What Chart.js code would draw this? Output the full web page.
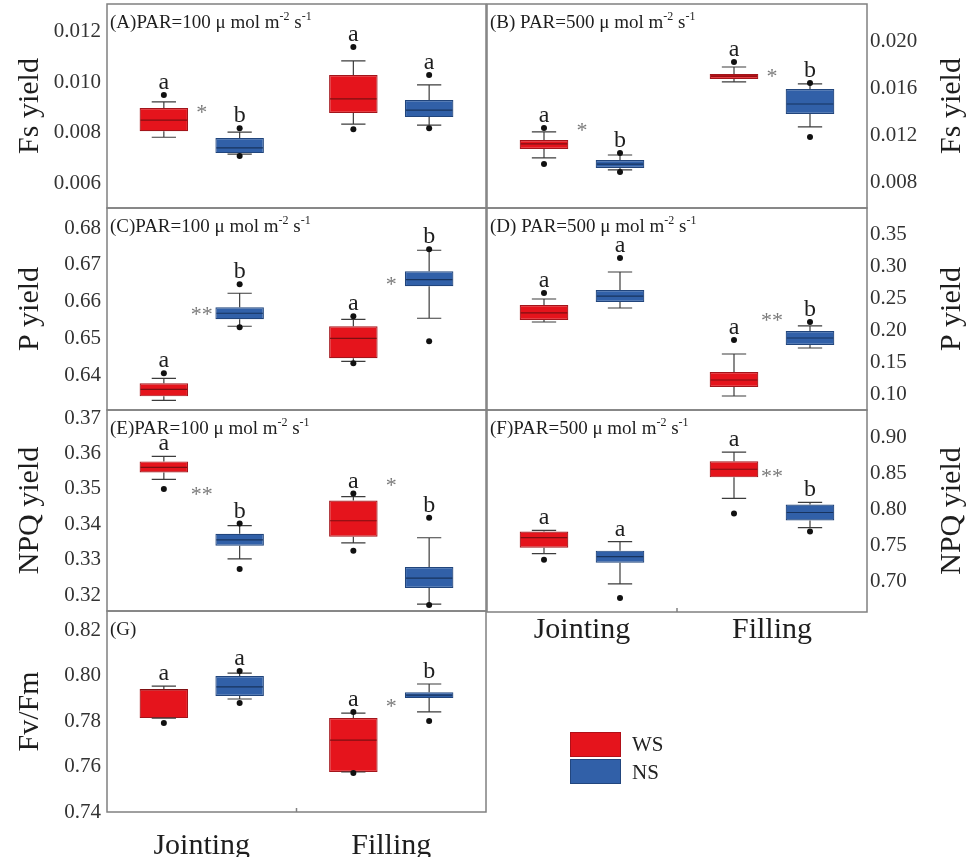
<!DOCTYPE html>
<html lang="en">
<head>
<meta charset="UTF-8">
<title>Chlorophyll fluorescence box plots</title>
<script src="https://cdn.jsdelivr.net/npm/chart.js"></script>
<style>
  body { margin: 0; background: #fff; }
  #wrap { position: relative; width: 971px; height: 857px; overflow: hidden; }
  #wrap canvas { position: absolute; left: 0; top: 0; }
  .key { position: absolute; left: 570px; width: 51px; height: 25px; }
  .keyText { position: absolute; left: 632px; font: 21px "Liberation Serif", serif; color: #222; line-height: 25px; }
</style>
</head>
<body>
<div id="wrap">
  <canvas id="cA" width="971" height="857"></canvas>
  <canvas id="cB" width="971" height="857"></canvas>
  <canvas id="cC" width="971" height="857"></canvas>
  <canvas id="cD" width="971" height="857"></canvas>
  <canvas id="cE" width="971" height="857"></canvas>
  <canvas id="cF" width="971" height="857"></canvas>
  <canvas id="cG" width="971" height="857"></canvas>
  <div class="key" style="top:732px;background:#e5141c;border:1px solid #b01018;box-sizing:border-box"></div>
  <div class="key" style="top:759px;background:#3160a8;border:1px solid #22467e;box-sizing:border-box"></div>
  <div class="keyText" style="top:732px">WS</div>
  <div class="keyText" style="top:760px">NS</div>
</div>
<script>
const stages = ['Jointing', 'Filling'];

// each box: [lower whisker, Q1, median, Q3, upper whisker], one per stage
// (A) Fs yield, PAR=100
const fs100WS = [[0.00782, 0.00806, 0.0085, 0.00898, 0.00922], [0.00834, 0.00878, 0.00934, 0.01029, 0.01085]];
const fs100NS = [[0.00715, 0.00719, 0.0074, 0.00779, 0.00802], [0.0083, 0.00862, 0.0089, 0.0093, 0.0099]];
const fs100WSOut = [[0.0095], [0.0114, 0.00814]];
const fs100NSOut = [[0.00818, 0.00707], [0.01029, 0.00818]];
const fs100Letters = [['a', 'a'], ['b', 'a']];
const fs100Stars = [['*', 0.00902], null];
const fs100Ticks = [0.006, 0.008, 0.010, 0.012];

// (B) Fs yield, PAR=500
const fs500WS = [[0.01013, 0.01089, 0.01132, 0.01166, 0.01234], [0.0166, 0.01685, 0.0171, 0.01728, 0.01787]];
const fs500NS = [[0.00911, 0.00928, 0.0096, 0.00996, 0.01038], [0.01277, 0.01387, 0.01472, 0.016, 0.01643]];
const fs500WSOut = [[0.01268, 0.00962], [0.0183]];
const fs500NSOut = [[0.01055, 0.00894], [0.0165, 0.01191]];
const fs500Letters = [['a', 'a'], ['b', 'b']];
const fs500Stars = [['*', 0.01294], ['*', 0.01753]];
const fs500Ticks = [0.008, 0.012, 0.016, 0.020];

// (C) P yield, PAR=100
const p100WS = [[0.63313, 0.63422, 0.63613, 0.63777, 0.63913], [0.64376, 0.64458, 0.65, 0.6533, 0.6552]];
const p100NS = [[0.6533, 0.6552, 0.65684, 0.65847, 0.66229], [0.65548, 0.6642, 0.666, 0.66828, 0.674]];
const p100WSOut = [[0.6405], [0.65602, 0.6432]];
const p100NSOut = [[0.66474, 0.653], [0.67428, 0.64921]];
const p100Letters = [['a', 'a'], ['b', 'b']];
const p100Stars = [['**', 0.6579], ['*', 0.6661]];
const p100Ticks = [0.64, 0.65, 0.66, 0.67, 0.68];

// (D) P yield, PAR=500
const p500WS = [[0.2125, 0.2156, 0.2266, 0.2391, 0.2484], [0.0969, 0.111, 0.1219, 0.1344, 0.1625]];
const p500NS = [[0.2344, 0.2438, 0.253, 0.2625, 0.2906], [0.1719, 0.1766, 0.1875, 0.1984, 0.2063]];
const p500WSOut = [[0.2578], [0.1844]];
const p500NSOut = [[0.3125], [0.2125]];
const p500Letters = [['a', 'a'], ['a', 'b']];
const p500Stars = [null, ['**', 0.2234]];
const p500Ticks = [0.10, 0.15, 0.20, 0.25, 0.30, 0.35];

// (E) NPQ yield, PAR=100
const npq100WS = [[0.35267, 0.35466, 0.3561, 0.35778, 0.3592], [0.33477, 0.33648, 0.341, 0.3467, 0.3478]];
const npq100NS = [[0.33023, 0.33392, 0.3356, 0.33733, 0.3396], [0.31744, 0.32199, 0.3248, 0.32795, 0.3362]];
const npq100WSOut = [[0.35], [0.3487, 0.3325]];
const npq100NSOut = [[0.3402, 0.32739], [0.34188, 0.3172]];
const npq100Letters = [['a', 'a'], ['b', 'b']];
const npq100Stars = [['**', 0.35], ['*', 0.3524]];
const npq100Ticks = [0.32, 0.33, 0.34, 0.35, 0.36, 0.37];

// (F) NPQ yield, PAR=500
const npq500WS = [[0.7389, 0.7472, 0.761, 0.7694, 0.771], [0.8153, 0.8444, 0.8556, 0.8667, 0.8792]];
const npq500NS = [[0.6972, 0.7264, 0.7347, 0.7431, 0.7556], [0.775, 0.7847, 0.7958, 0.8069, 0.8097]];
const npq500WSOut = [[0.7306], [0.7944]];
const npq500NSOut = [[0.6778], [0.7694]];
const npq500Letters = [['a', 'a'], ['a', 'b']];
const npq500Stars = [null, ['**', 0.8528]];
const npq500Ticks = [0.70, 0.75, 0.80, 0.85, 0.90];

// (G) Fv/Fm
const fvfmWS = [[0.7813, 0.7813, 0.7938, 0.7941, 0.7954], [0.7576, 0.7576, 0.7716, 0.7813, 0.7835]];
const fvfmNS = [[0.7897, 0.791, 0.795, 0.7998, 0.8011], [0.784, 0.7901, 0.7914, 0.7927, 0.7963]];
const fvfmWSOut = [[0.7791], [0.784, 0.7571]];
const fvfmNSOut = [[0.802, 0.7879], [0.78]];
const fvfmLetters = [['a', 'a'], ['a', 'b']];
const fvfmStars = [null, ['*', 0.7888]];
const fvfmTicks = [0.74, 0.76, 0.78, 0.80, 0.82];

const SERIF = '"Liberation Serif", "DejaVu Serif", serif';
const WS_FILL = '#e5141c', WS_EDGE = '#a3141a', WS_MED = '#7e0f12';
const NS_FILL = '#3160a8', NS_EDGE = '#21457c', NS_MED = '#17335e';
const FRAME = '#808080';

function parTitle(tag, gap, par) {
  return [['(' + tag + ')' + gap + 'PAR=' + par + ' μ mol m', false], ['-2', true], [' s', false], ['-1', true]];
}

const panels = [
  { id: 'cA', side: 'left', frame: [107, 4, 486, 208], title: parTitle('A', '', 100), yTitle: 'Fs yield',
    min: 0.00501, max: 0.01311, dec: 3, ticks: fs100Ticks, ws: fs100WS, ns: fs100NS,
    wsOut: fs100WSOut, nsOut: fs100NSOut, letters: fs100Letters, stars: fs100Stars },
  { id: 'cB', side: 'right', frame: [487, 4, 867, 208], title: parTitle('B', ' ', 500), yTitle: 'Fs yield',
    min: 0.00587, max: 0.02323, dec: 3, ticks: fs500Ticks, ws: fs500WS, ns: fs500NS,
    wsOut: fs500WSOut, nsOut: fs500NSOut, letters: fs500Letters, stars: fs500Stars },
  { id: 'cC', side: 'left', frame: [107, 208, 486, 410], title: parTitle('C', '', 100), yTitle: 'P yield',
    min: 0.6305, max: 0.6855, dec: 2, ticks: p100Ticks, ws: p100WS, ns: p100NS,
    wsOut: p100WSOut, nsOut: p100NSOut, letters: p100Letters, stars: p100Stars },
  { id: 'cD', side: 'right', frame: [487, 208, 867, 410], title: parTitle('D', ' ', 500), yTitle: 'P yield',
    min: 0.075, max: 0.3906, dec: 2, ticks: p500Ticks, ws: p500WS, ns: p500NS,
    wsOut: p500WSOut, nsOut: p500NSOut, letters: p500Letters, stars: p500Stars },
  { id: 'cE', side: 'left', frame: [107, 410, 486, 611], title: parTitle('E', '', 100), yTitle: 'NPQ yield',
    min: 0.3155, max: 0.3723, dec: 2, ticks: npq100Ticks, ws: npq100WS, ns: npq100NS,
    wsOut: npq100WSOut, nsOut: npq100NSOut, letters: npq100Letters, stars: npq100Stars },
  { id: 'cF', side: 'right', frame: [487, 410, 867, 612], title: parTitle('F', '', 500), yTitle: 'NPQ yield',
    min: 0.6583, max: 0.9375, dec: 2, ticks: npq500Ticks, ws: npq500WS, ns: npq500NS,
    wsOut: npq500WSOut, nsOut: npq500NSOut, letters: npq500Letters, stars: npq500Stars, xLabels: 0 },
  { id: 'cG', side: 'left', frame: [107, 611, 486, 812], title: [['(G)', false]], yTitle: 'Fv/Fm',
    min: 0.74, max: 0.8284, dec: 2, ticks: fvfmTicks, ws: fvfmWS, ns: fvfmNS,
    wsOut: fvfmWSOut, nsOut: fvfmNSOut, letters: fvfmLetters, stars: fvfmStars, xLabels: 16 }
];

const X_AXIS_H = 45;

// keep tick labels from pushing the plot frame around
function noOverhang(s) {
  s.paddingTop = 0; s.paddingBottom = 0; s.paddingLeft = 0; s.paddingRight = 0;
}

function boxPlugin(p) {
  return {
    id: 'boxes',
    afterDatasetsDraw(chart) {
      const ctx = chart.ctx, ys = chart.scales.y, xs = chart.scales.x;
      const groups = [[p.ws, p.wsOut, WS_MED], [p.ns, p.nsOut, NS_MED]];
      ctx.save();
      groups.forEach(([stats, outs, medCol], di) => {
        chart.getDatasetMeta(di).data.forEach((bar, i) => {
          const [lo, q1, med, q3, hi] = stats[i];
          const cx = bar.x, w = bar.width, cap = w * 0.5;
          const py = v => ys.getPixelForValue(v);
          ctx.strokeStyle = '#3c3c3c';
          ctx.lineWidth = 1.2;
          ctx.beginPath();
          ctx.moveTo(cx, py(q3)); ctx.lineTo(cx, py(hi));
          ctx.moveTo(cx - cap / 2, py(hi)); ctx.lineTo(cx + cap / 2, py(hi));
          ctx.moveTo(cx, py(q1)); ctx.lineTo(cx, py(lo));
          ctx.moveTo(cx - cap / 2, py(lo)); ctx.lineTo(cx + cap / 2, py(lo));
          ctx.stroke();
          ctx.strokeStyle = medCol;
          ctx.beginPath();
          ctx.moveTo(cx - w / 2 + 1, py(med)); ctx.lineTo(cx + w / 2 - 1, py(med));
          ctx.stroke();
          ctx.fillStyle = '#111';
          outs[i].forEach(v => {
            ctx.beginPath();
            ctx.arc(cx, py(v), 3, 0, Math.PI * 2);
            ctx.fill();
          });
          const top = Math.max(hi, ...outs[i]);
          ctx.fillStyle = '#1e1e1e';
          ctx.font = '24px ' + SERIF;
          ctx.textAlign = 'center';
          ctx.textBaseline = 'alphabetic';
          ctx.fillText(p.letters[di][i], cx, py(top) - 6);
        });
      });
      p.stars.forEach((s, i) => {
        if (!s) return;
        ctx.fillStyle = '#7a7a7a';
        ctx.font = '22px ' + SERIF;
        ctx.textAlign = 'center';
        ctx.textBaseline = 'alphabetic';
        ctx.fillText(s[0], xs.getPixelForValue(i), ys.getPixelForValue(s[1]) + 12);
      });
      ctx.restore();
    },
    afterDraw(chart) {
      const ctx = chart.ctx, a = chart.chartArea;
      ctx.save();
      ctx.strokeStyle = FRAME;
      ctx.lineWidth = 1.5;
      ctx.strokeRect(a.left, a.top, a.right - a.left, a.bottom - a.top);
      if (p.xLabels !== undefined) {
        const mid = (a.left + a.right) / 2;
        ctx.beginPath(); ctx.moveTo(mid, a.bottom); ctx.lineTo(mid, a.bottom - 4); ctx.stroke();
      }
      // panel label
      ctx.fillStyle = '#1e1e1e';
      ctx.textBaseline = 'middle';
      ctx.textAlign = 'left';
      let x = a.left + 3;
      const y = a.top + 19;
      p.title.forEach(([txt, sup]) => {
        ctx.font = (sup ? '12px ' : '19px ') + SERIF;
        ctx.fillText(txt, x, sup ? y - 6 : y);
        x += ctx.measureText(txt).width;
      });
      // axis title, read bottom to top on both sides
      ctx.font = '30px ' + SERIF;
      ctx.textAlign = 'center';
      ctx.translate(p.side === 'left' ? 30 : 952, (a.top + a.bottom) / 2);
      ctx.rotate(-Math.PI / 2);
      ctx.fillText(p.yTitle, 0, 0);
      ctx.restore();
    }
  };
}

panels.forEach(p => {
  const [l, t, r, b] = p.frame;
  const hasX = p.xLabels !== undefined;
  const pad = {
    left: p.side === 'left' ? 0 : l,
    right: p.side === 'left' ? 971 - r : 0,
    top: t,
    bottom: 857 - b - (hasX ? X_AXIS_H : 0)
  };
  new Chart(document.getElementById(p.id), {
    type: 'bar',
    data: {
      labels: stages,
      datasets: [
        { label: 'WS', data: p.ws.map(s => [s[1], s[3]]), backgroundColor: WS_FILL, borderColor: WS_EDGE,
          borderWidth: 1.2, borderSkipped: false, categoryPercentage: 0.8, barPercentage: 0.64 },
        { label: 'NS', data: p.ns.map(s => [s[1], s[3]]), backgroundColor: NS_FILL, borderColor: NS_EDGE,
          borderWidth: 1.2, borderSkipped: false, categoryPercentage: 0.8, barPercentage: 0.64 }
      ]
    },
    options: {
      responsive: false,
      animation: false,
      layout: { padding: pad },
      plugins: { legend: { display: false }, tooltip: { enabled: false } },
      scales: {
        x: {
          display: hasX,
          grid: { display: false, drawTicks: false },
          border: { display: false },
          ticks: { color: '#1e1e1e', font: { family: SERIF, size: 30 }, padding: hasX ? p.xLabels : 0, maxRotation: 0 },
          afterFit: s => { if (hasX) s.height = X_AXIS_H; noOverhang(s); }
        },
        y: {
          position: p.side,
          min: p.min,
          max: p.max,
          grid: { display: false, drawTicks: false },
          border: { display: false },
          afterBuildTicks: s => { s.ticks = p.ticks.map(v => ({ value: v })); },
          afterFit: s => { s.width = p.side === 'left' ? 107 : 104; noOverhang(s); },
          ticks: {
            color: '#333',
            font: { family: SERIF, size: 21 },
            padding: p.side === 'left' ? 6 : 3,
            callback: v => Number(v).toFixed(p.dec)
          }
        }
      }
    },
    plugins: [boxPlugin(p)]
  });
});
</script>
</body>
</html>
